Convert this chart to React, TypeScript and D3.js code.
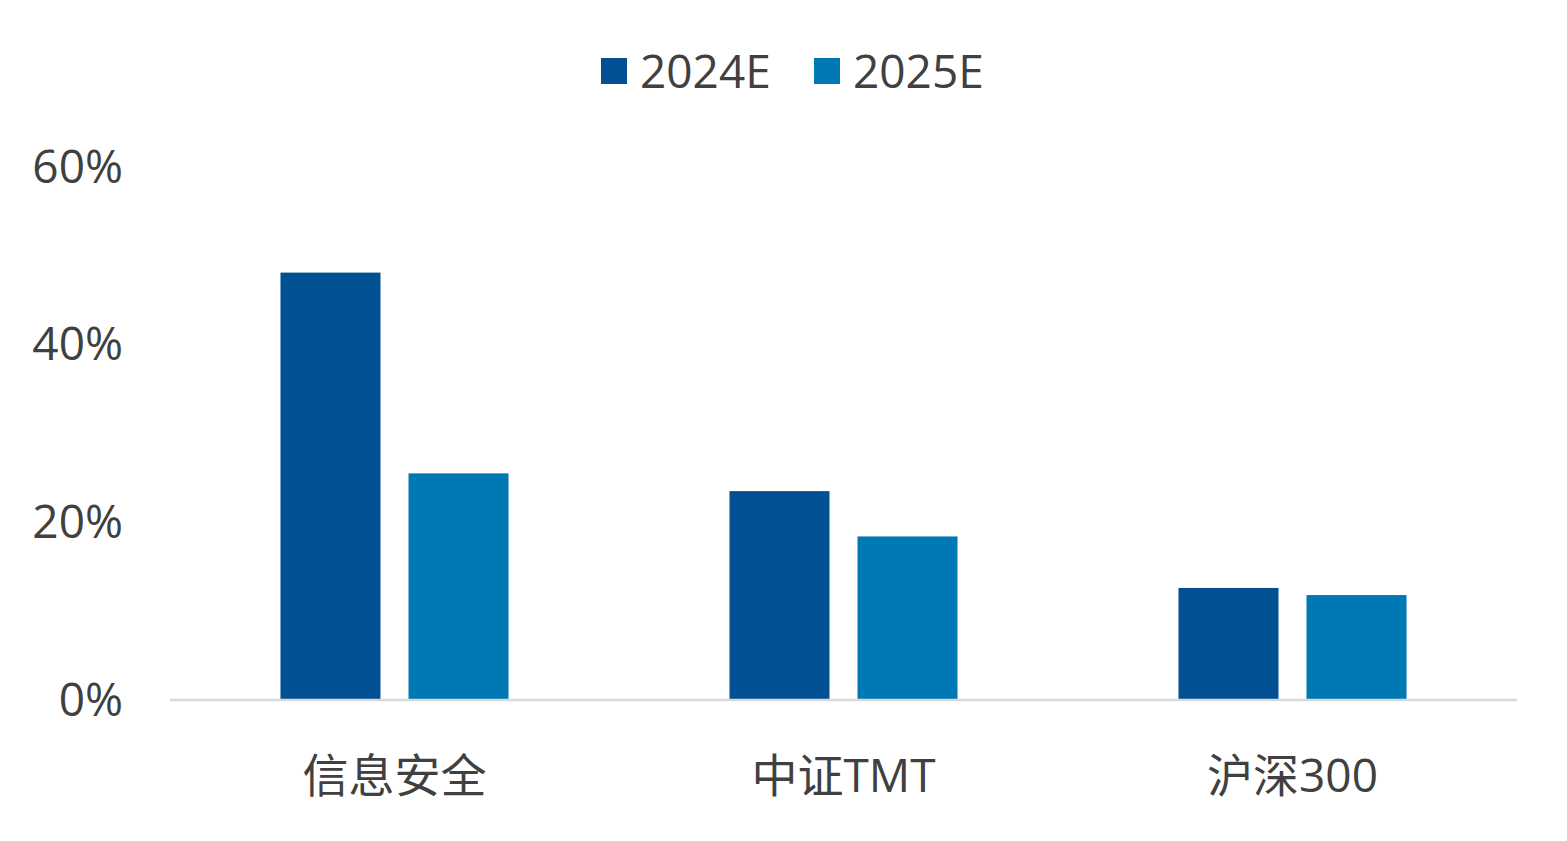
import React, { useEffect, useRef } from 'react';
import * as d3 from 'd3';

const categories = ['信息安全', '中证TMT', '沪深300'];
const seriesNames = ['2024E', '2025E'];
const values2024 = [0.48, 0.234, 0.125];
const values2025 = [0.254, 0.183, 0.117];
const yTicks = [0, 0.2, 0.4, 0.6];
const colors = ['#005092', '#0078B4'];

const App: React.FC = () => {
  const svgRef = useRef<SVGSVGElement>(null);

  useEffect(() => {
    if (!svgRef.current) return;
    const svg = d3.select(svgRef.current);
    svg.selectAll('*').remove();

    const font = '"Open Sans", "Noto Sans CJK SC", sans-serif';
    const textColor = '#404040';
    const fontSize = '46px';

    const x0 = d3.scaleBand<string>().domain(categories).range([170, 1517]).padding(0);
    const x1 = d3.scaleBand<string>()
      .domain(seriesNames)
      .range([0, x0.bandwidth()])
      .paddingInner(0.21875)
      .paddingOuter(0.863);
    const y = d3.scaleLinear().domain([0, 0.6]).range([699, 166]);

    const data = categories.map((c, i) => ({
      category: c,
      values: [values2024[i], values2025[i]],
    }));

    // bars
    const groups = svg.append('g')
      .selectAll('g')
      .data(data)
      .enter()
      .append('g')
      .attr('transform', d => `translate(${x0(d.category)},0)`);

    groups.selectAll('rect')
      .data(d => d.values.map((v, i) => ({ key: seriesNames[i], v, i })))
      .enter()
      .append('rect')
      .attr('x', d => x1(d.key)!)
      .attr('y', d => y(d.v))
      .attr('width', x1.bandwidth())
      .attr('height', d => y(0) - y(d.v))
      .attr('fill', d => colors[d.i]);

    // baseline
    svg.append('line')
      .attr('x1', 170)
      .attr('x2', 1517)
      .attr('y1', y(0) + 1)
      .attr('y2', y(0) + 1)
      .attr('stroke', '#D9D9D9')
      .attr('stroke-width', 2.5);

    // y tick labels
    svg.append('g')
      .selectAll('text')
      .data(yTicks)
      .enter()
      .append('text')
      .attr('x', 123)
      .attr('y', d => y(d))
      .attr('dy', '0.36em')
      .attr('text-anchor', 'end')
      .style('font-family', font)
      .style('font-size', fontSize)
      .style('fill', textColor)
      .text(d => d3.format('.0%')(d));

    // category labels
    svg.append('g')
      .selectAll('text')
      .data(categories)
      .enter()
      .append('text')
      .attr('x', d => x0(d)! + x0.bandwidth() / 2)
      .attr('y', 775)
      .attr('dy', '0.36em')
      .attr('text-anchor', 'middle')
      .style('font-family', font)
      .style('font-size', fontSize)
      .style('fill', textColor)
      .text(d => d);

    // legend
    const legendX = [601, 814];
    seriesNames.forEach((name, i) => {
      const row = svg.append('g').attr('transform', `translate(${legendX[i]},58)`);
      row.append('rect')
        .attr('width', 26)
        .attr('height', 26)
        .attr('fill', colors[i]);
      row.append('text')
        .attr('x', 39)
        .attr('y', 13)
        .attr('dy', '0.36em')
        .style('font-family', font)
        .style('font-size', fontSize)
        .style('fill', textColor)
        .text(name);
    });
  }, []);

  return (
    <svg
      ref={svgRef}
      width={1567}
      height={841}
      style={{ position: 'absolute', left: 0, top: 0, background: '#fff' }}
    />
  );
};

export default App;
